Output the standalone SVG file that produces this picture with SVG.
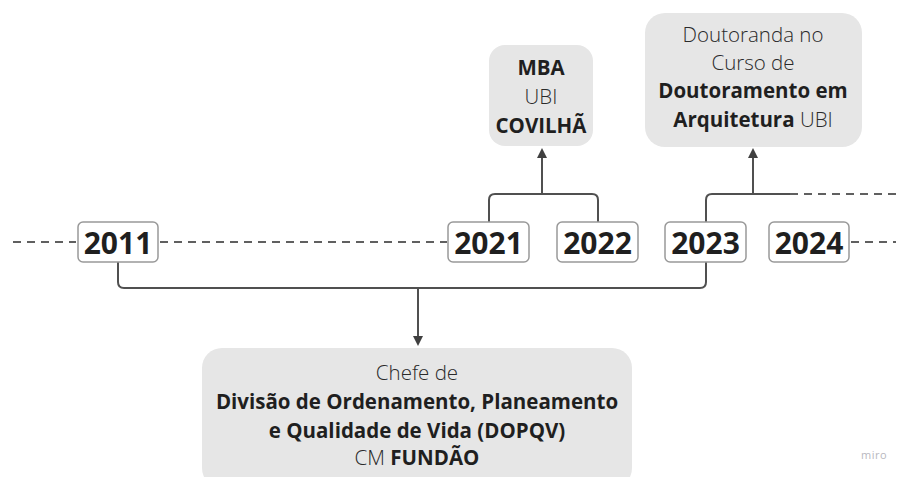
<svg xmlns="http://www.w3.org/2000/svg" width="901" height="477" viewBox="0 0 901 477">
<defs>
<marker id="arr" markerWidth="10" markerHeight="10" refX="5" refY="5" orient="auto" markerUnits="userSpaceOnUse" viewBox="0 0 10 10">
<path d="M0,0 L10,5 L0,10 Z" fill="#404040"/>
</marker>
<style>
text{font-family:"Open Sans","Noto Sans",sans-serif;fill:#1f1f1f;text-anchor:middle}
.yr{font-size:30px;font-weight:700}
.t{font-size:20.5px;font-weight:300;fill:#2a2a2a}
.b{font-weight:700;fill:#1f1f1f}
.ybox{fill:#fff;stroke:#999;stroke-width:1.5}
.card{fill:#e6e6e6}
.ln{fill:none;stroke:#505050;stroke-width:2}
.dash{fill:none;stroke:#606060;stroke-width:2;stroke-dasharray:8 6}
</style>
</defs>
<rect width="901" height="477" fill="#fff"/>
<g id="connectors">
<path class="dash" d="M13,242 H76"/>
<path class="dash" d="M160,242 H447"/>
<path class="dash" d="M851,242 H896"/>
<path class="dash" d="M790,194 H896"/>
<path class="ln" d="M118,262 V282 Q118,288 124,288 H700 Q706,288 706,282 V262"/>
<path class="ln" d="M418,288 V341" marker-end="url(#arr)"/>
<path class="ln" d="M489,222 V200 Q489,194 495,194 H592 Q598,194 598,200 V222"/>
<path class="ln" d="M542,194 V153" marker-end="url(#arr)"/>
<path class="ln" d="M706,222 V200 Q706,194 712,194 H790"/>
<path class="ln" d="M753,194 V153" marker-end="url(#arr)"/>
</g>
<g id="y2011"><rect class="ybox" x="78" y="222" width="80" height="40" rx="5"/><text class="yr" x="118" y="253.5">2011</text></g>
<g id="y2021"><rect class="ybox" x="448" y="222" width="81" height="40" rx="5"/><text class="yr" x="488.5" y="253.5">2021</text></g>
<g id="y2022"><rect class="ybox" x="557" y="222" width="81" height="40" rx="5"/><text class="yr" x="597.5" y="253.5">2022</text></g>
<g id="y2023"><rect class="ybox" x="665" y="222" width="81" height="40" rx="5"/><text class="yr" x="705.5" y="253.5">2023</text></g>
<g id="y2024"><rect class="ybox" x="769" y="222" width="80" height="40" rx="5"/><text class="yr" x="809" y="253.5">2024</text></g>
<g id="mba"><rect class="card" x="489" y="45" width="104" height="101" rx="16"/>
<text class="t b" x="541" y="75">MBA</text>
<text class="t" x="541" y="104">UBI</text>
<text class="t b" x="541" y="133">COVILHÃ</text></g>
<g id="doutoranda"><rect class="card" x="645" y="13" width="217" height="134" rx="20"/>
<text class="t" x="753" y="42">Doutoranda no</text>
<text class="t" x="753" y="70">Curso de</text>
<text class="t b" x="753" y="98">Doutoramento em</text>
<text class="t" x="753" y="127"><tspan class="b">Arquitetura</tspan> UBI</text></g>
<g id="chefe"><rect class="card" x="202" y="348" width="430" height="140" rx="20"/>
<text class="t" x="417" y="380">Chefe de</text>
<text class="t b" x="417" y="409">Divisão de Ordenamento, Planeamento</text>
<text class="t b" x="417" y="438">e Qualidade de Vida (DOPQV)</text>
<text class="t" x="417" y="465">CM <tspan class="b">FUNDÃO</tspan></text></g>
<text x="874" y="459" style="font-size:11px;fill:#b8b8c0;letter-spacing:0.5px">miro</text>
</svg>
